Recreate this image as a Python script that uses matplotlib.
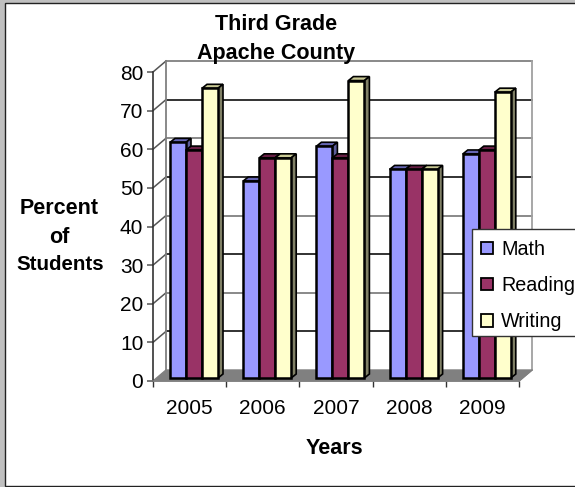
import matplotlib
matplotlib.use('Agg')
import matplotlib.pyplot as plt
from matplotlib.patches import Rectangle, Patch

plt.rcParams['font.family'] = ['Liberation Sans', 'DejaVu Sans']

# data
years = ['2005', '2006', '2007', '2008', '2009']
math_vals = [61, 51, 60, 54, 58]
reading_vals = [59, 57, 57, 54, 59]
writing_vals = [75, 57, 77, 54, 74]
series_names = ['Math', 'Reading', 'Writing']
y_ticks = [0, 10, 20, 30, 40, 50, 60, 70, 80]

W, H = 575, 487
fig = plt.figure(figsize=(W / 100, H / 100), dpi=100, facecolor='#c0c0c0')
fig.add_artist(Rectangle((5 / W, 1 - 486 / H), 1, 483 / H, transform=fig.transFigure,
                         facecolor='white', edgecolor='#222222', linewidth=1, zorder=-1))

# front plane of the 3D box, in pixels
X0, X1, Y0, Y1 = 153, 519, 381, 72
ax = fig.add_axes([X0 / W, 1 - Y0 / H, (X1 - X0) / W, (Y0 - Y1) / H])
ax.set_xlim(0, 5)
ax.set_ylim(0, 80)
ax.patch.set_alpha(0)
px = 5 / (X1 - X0)
py = 80 / (Y0 - Y1)

# depth of the box
dx = 13 * px
dy = 11 * py

# floor and walls
ax.fill([0, dx, 5 + dx, 5], [0, dy, dy, 0], color='#808080', zorder=1, clip_on=False)
grid_cols = ['#808080', '#222222']
for i, t in enumerate(y_ticks):
    col = grid_cols[i % 2]
    if t > 0:
        ax.plot([dx, 5 + dx], [t + dy, t + dy], color='#808080' if t == 80 else col,
                lw=1.3, zorder=1, clip_on=False)
        ax.plot([0, dx], [t, t + dy], color='#555555', lw=1.1, zorder=1, clip_on=False)
ax.plot([dx, dx], [dy, 80 + dy], color='#808080', lw=1.3, zorder=1, clip_on=False)
ax.plot([5 + dx, 5 + dx], [dy, 80 + dy], color='#a0a0a0', lw=1.3, zorder=1, clip_on=False)
ax.plot([5, 5 + dx], [0, dy], color='#808080', lw=1.1, zorder=1, clip_on=False)

# bars
bar_w = 16 * px
start = 17 * px
base = 3 * py
bar_dx = 5 * px
bar_dy = 4 * py
faces = ['#9999ff', '#993366', '#ffffcc']
tops = ['#6666b3', '#661f44', '#c8c894']
sides = ['#5c5c99', '#5c1f3d', '#808066']
series = [math_vals, reading_vals, writing_vals]

for g in range(len(years)):
    for s, vals in enumerate(series):
        v = vals[g] + base
        x = g + start + s * bar_w
        z = 3 + s
        ax.fill([x, x + bar_dx, x + bar_w + bar_dx, x + bar_w],
                [v, v + bar_dy, v + bar_dy, v],
                facecolor=tops[s], edgecolor='black', lw=1.2, zorder=z, clip_on=False)
        ax.fill([x + bar_w, x + bar_w + bar_dx, x + bar_w + bar_dx, x + bar_w],
                [base, base + bar_dy, v + bar_dy, v],
                facecolor=sides[s], edgecolor='black', lw=1.2, zorder=z, clip_on=False)
        ax.bar(x, vals[g], bar_w, bottom=base, align='edge', color=faces[s],
               edgecolor='black', lw=1.8, zorder=z + 0.5, clip_on=False)

# axes
for name in ['top', 'right']:
    ax.spines[name].set_visible(False)
ax.spines['left'].set_color('#333333')
ax.spines['bottom'].set_color('#808080')
ax.spines['left'].set_linewidth(1.2)
ax.spines['bottom'].set_linewidth(1.2)
ax.set_yticks(y_ticks)
ax.set_xticks(range(6))
ax.set_xticklabels([])
ax.set_xticks([g + 0.5 for g in range(5)], years, minor=True)
ax.tick_params(axis='y', length=4, width=1.1, color='#555555', labelsize=15, pad=3)
ax.tick_params(axis='x', which='major', length=4.5, width=1, color='#333333')
ax.tick_params(axis='x', which='minor', length=0, labelsize=15, pad=13)

# texts, placed in pixel positions
def label(x, y, txt, size=15.5):
    fig.text(x / W, 1 - y / H, txt, ha='center', va='center', fontsize=size, fontweight='bold')

label(276, 25, 'Third Grade')
label(276, 53, 'Apache County')
label(59, 209, 'Percent')
label(59, 237, 'of')
label(60, 264, 'Students', size=14.8)
label(334, 448, 'Years')

# legend, with its box drawn apart so the rows can sit lower in it
fig.add_artist(Rectangle((472 / W, 1 - 336 / H), 110 / W, 107 / H, transform=fig.transFigure,
                         facecolor='white', edgecolor='#333333', linewidth=1, zorder=9))
handles = [Patch(facecolor=c, edgecolor='black', linewidth=1.3) for c in faces]
leg = fig.legend(handles, series_names, loc='upper left',
                 bbox_to_anchor=(472 / W, 1 - 231 / H), fontsize=14.2,
                 frameon=False,
                 handlelength=0.62, handleheight=0.62, handletextpad=0.42,
                 labelspacing=0.87, borderpad=0.45, borderaxespad=0)
leg.set_zorder(10)

fig.savefig('out.png', dpi=100, facecolor=fig.get_facecolor())
